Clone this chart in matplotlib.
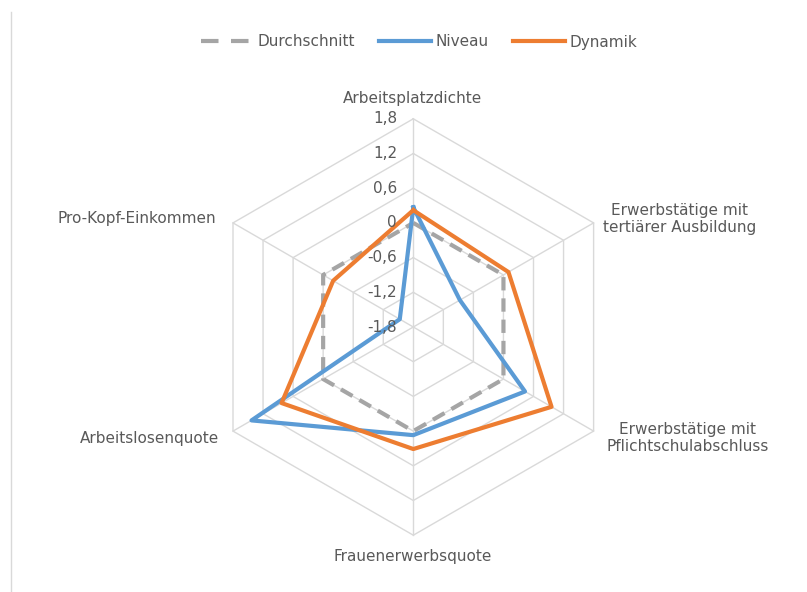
import numpy as np
import matplotlib.pyplot as plt
from matplotlib.lines import Line2D

plt.rcParams['font.family'] = ['DejaVu Sans']

# axes, clockwise from top
categories = ['Arbeitsplatzdichte', 'Erwerbstätige mit\ntertiärer Ausbildung',
              'Erwerbstätige mit\nPflichtschulabschluss', 'Frauenerwerbsquote',
              'Arbeitslosenquote', 'Pro-Kopf-Einkommen']
durchschnitt = [0, 0, 0, 0, 0, 0]
niveau = [0.27, -0.87, 0.43, 0.07, 1.43, -1.53]
dynamik = [0.22, 0.10, 0.96, 0.31, 0.83, -0.20]
ticks = [-1.8, -1.2, -0.6, 0, 0.6, 1.2, 1.8]
tick_labels = ['-1,8', '-1,2', '-0,6', '0', '0,6', '1,2', '1,8']

vmin = ticks[0]
n = len(categories)
ang = np.arange(n) * 2 * np.pi / n


def xy(vals):
    r = np.array(vals, dtype=float) - vmin
    x = r * np.sin(ang)
    y = r * np.cos(ang)
    return np.append(x, x[0]), np.append(y, y[0])


W, H = 807, 592
fig = plt.figure(figsize=(W / 100, H / 100), dpi=100)
ax = fig.add_axes([0, 0, 1, 1])
px = 34.7 / 0.6  # pixels per value unit
cx, cy = 413.3, 327
ax.set_xlim(-cx / px, (W - cx) / px)
ax.set_ylim(-(H - cy) / px, cy / px)
ax.set_aspect('equal')
ax.axis('off')

grid_c = '#d9d9d9'
txt_c = '#595959'
fs = 11

# hexagon grid
for t in ticks[1:]:
    gx, gy = xy([t] * n)
    ax.plot(gx, gy, color=grid_c, lw=1, zorder=1)
rmax = ticks[-1] - vmin
for a in ang:
    ax.plot([0, rmax * np.sin(a)], [0, rmax * np.cos(a)], color=grid_c, lw=1, zorder=1)

# tick labels on top axis
for t, lab in zip(ticks, tick_labels):
    ax.text(-0.28, t - vmin, lab, ha='right', va='center', fontsize=fs, color=txt_c, zorder=5)

# series
dash = (3.2, 1.9)
dx, dy = xy(durchschnitt)
ax.plot(dx, dy, color='#a5a5a5', lw=3, dashes=dash, zorder=3)
nx, ny = xy(niveau)
ax.plot(nx, ny, color='#5b9bd5', lw=3, zorder=4)
ox, oy = xy(dynamik)
ax.plot(ox, oy, color='#ed7d31', lw=3, zorder=4)

# category labels (pixel positions of label centres)
label_pos = [(413, 98), (680, 219), (688, 438), (413, 557), (150, 438), (137, 219)]
for lab, (lx, ly) in zip(categories, label_pos):
    ax.text((lx - cx) / px, (cy - ly) / px, lab, ha='center', va='center',
            fontsize=fs, color=txt_c, linespacing=1.2)

# left border line
fig.add_artist(Line2D([11 / W, 11 / W], [0, 1 - 12 / H], color='#d9d9d9', lw=1,
                      transform=fig.transFigure))

handles = [Line2D([], [], color='#a5a5a5', lw=3, dashes=(4.2, 3)),
           Line2D([], [], color='#5b9bd5', lw=3),
           Line2D([], [], color='#ed7d31', lw=3)]
fig.legend(handles, ['Durchschnitt', 'Niveau', 'Dynamik'], loc='center',
           bbox_to_anchor=(419 / W, 1 - 42 / H), ncol=3, frameon=False,
           fontsize=fs, handlelength=3.4, handletextpad=0.3, columnspacing=1.6,
           labelcolor=txt_c)

fig.savefig('out.png', dpi=100)
